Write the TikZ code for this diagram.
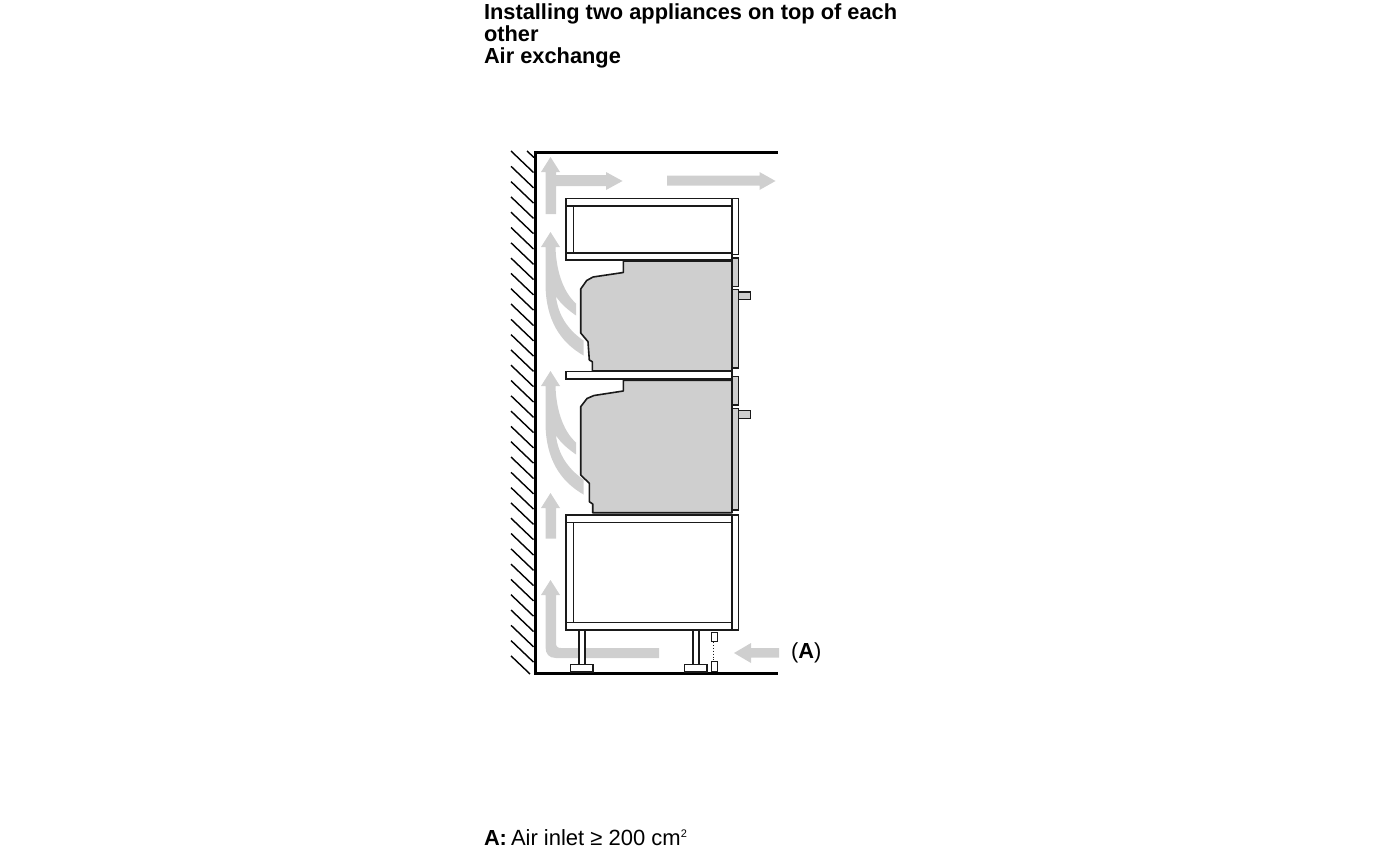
\documentclass[tikz,border=0pt]{standalone}
\usepackage{fontspec}
\setmainfont{Liberation Sans}
\definecolor{airgrey}{HTML}{CFCFCF}
\definecolor{inkline}{HTML}{1A1A1A}
\tikzset{
  wall/.style={draw=black,line width=3pt,line cap=butt,line join=miter},
  hatch/.style={draw=black,line width=1.4pt},
  panel/.style={draw=inkline,line width=1.4pt,fill=white,line join=miter},
  body/.style={draw=inkline,line width=1.6pt,fill=airgrey,line join=round},
  doorpart/.style={draw=inkline,line width=1.2pt,fill=airgrey},
  air/.style={fill=airgrey,draw=none},
  txt/.style={inner sep=0pt,outer sep=0pt,font=\fontsize{21.8}{22}\selectfont,text=black}
}
\begin{document}
\begin{tikzpicture}[x=1pt,y=-1pt]
\useasboundingbox (0,0) rectangle (1380,848);
% hatching
\foreach \k in {0,...,32} {
  \draw[hatch] (511,{151+15.3*\k}) -- (533.5,{172.5+15.3*\k});
}
\draw[hatch] (511,655.9) -- (530,674);
\draw[hatch] (527,151) -- (534,157.5);
% air arrows
\path[air] (545.5,214) -- (545.5,172) -- (541,172) -- (550.5,157) -- (560,172) -- (556,172) -- (556,175) -- (606,175) -- (606,172) -- (622.5,181) -- (606,190) -- (606,186) -- (556,186) -- (556,214) -- cycle;
\path[air] (667,175.5) -- (759.5,175.5) -- (759.5,172) -- (775.5,181) -- (759.5,190) -- (759.5,185.5) -- (667,185.5) -- cycle;
\foreach \dy in {0,139} {
\begin{scope}[yshift=\dy pt*-1]
\path[air] (550.5,232) -- (560,247) -- (555.5,247)
  .. controls (556,268) and (562,291) .. (576,303.5) -- (576,315.5)
  .. controls (568,310) and (561,304) .. (556,296.5)
  .. controls (558,315) and (568,330) .. (583.5,340.5) -- (583.5,355.5)
  .. controls (560,342) and (546,320) .. (545.5,285) -- (545.5,247) -- (541,247) -- cycle;
\end{scope}
}
\path[air] (550.5,493) -- (560,508) -- (556,508) -- (556,538.5) -- (545.5,538.5) -- (545.5,508) -- (541,508) -- cycle;
\path[air] (550.5,580) -- (560,595) -- (556,595) -- (556,643) .. controls (556,646.5) and (557.5,648) .. (561,648) -- (659,648) -- (659,658) -- (556,658) .. controls (549,658) and (545.5,654) .. (545.5,647) -- (545.5,595) -- (541,595) -- cycle;
\path[air] (734,653) -- (751,643) -- (751,648) -- (779,648) -- (779,657.5) -- (751,657.5) -- (751,663) -- cycle;
% wall
\draw[wall] (777.5,152) -- (535,152) -- (535,673.7) -- (777.5,673.7);
% top cabinet
\draw[panel] (732,198.5) rectangle (738.5,254.5);
\draw[panel] (566,206) rectangle (573.5,253);
\draw[panel] (566,198.5) rectangle (732,206);
\draw[panel] (566,253) rectangle (732,260);
% upper appliance
\draw[body] (623.3,261) -- (732,261) -- (732,371) -- (592.3,371) -- (592.3,361.7) -- (589.3,360) -- (588,341.7) -- (580.7,333) -- (580.7,289) -- (586.7,280.5) -- (593,277) -- (623.3,272.5) -- cycle;
\draw[doorpart] (732.5,258) rectangle (738.5,286.5);
\draw[doorpart] (732.5,289.5) rectangle (738.5,368);
\draw[doorpart] (738.5,292) rectangle (750.5,299.3);
% middle shelf
\draw[panel] (566,371.7) rectangle (732,379);
% lower appliance
\draw[body] (623.3,380.3) -- (732,380.3) -- (732,512.7) -- (592.7,512.7) -- (592.7,504) -- (589.3,501.7) -- (589.3,483.3) -- (580.7,475) -- (580.7,406.7) -- (587,398.5) -- (594,395.5) -- (623.3,391) -- cycle;
\draw[doorpart] (732.5,376.7) rectangle (738.5,405);
\draw[doorpart] (732.5,408.3) rectangle (738.5,510);
\draw[doorpart] (738.5,410.7) rectangle (750.5,418.3);
% bottom cabinet
\draw[panel] (732,515) rectangle (738.5,630);
\draw[panel] (566,522.5) rectangle (573.5,622.5);
\draw[panel] (566,515) rectangle (732,522.5);
\draw[panel] (566,622.5) rectangle (732,630);
% feet
\draw[panel] (579,630) rectangle (585,665);
\draw[panel] (693,630) rectangle (699,665);
\draw[panel] (570.7,664.7) rectangle (593,672);
\draw[panel] (684.7,664.7) rectangle (707,672);
% plinth
\draw[panel,line width=1pt] (711.5,632) rectangle (717,641.7);
\draw[panel,line width=1pt] (711.5,661.7) rectangle (717,671.5);
\draw[draw=inkline,line width=0.9pt,dotted] (713.5,642) -- (713.5,661.5);
% texts
\node[txt,anchor=north west,align=left] (title) at (484,3.7) {\textbf{Installing two appliances on top of each}\\\textbf{other}\\\textbf{Air exchange}};
\node[txt,anchor=base west] (lblA) at (791,658.5) {(\textbf{A})};
\node[txt,anchor=base west] (footA) at (484,845) {\textbf{A:}};
\node[txt,anchor=base west] (foot) at (511,845) {\fontsize{22}{22}\selectfont Air inlet ≥ 200 cm\raisebox{7.5pt}{\fontsize{11}{11}\selectfont 2}};
\end{tikzpicture}
\end{document}
